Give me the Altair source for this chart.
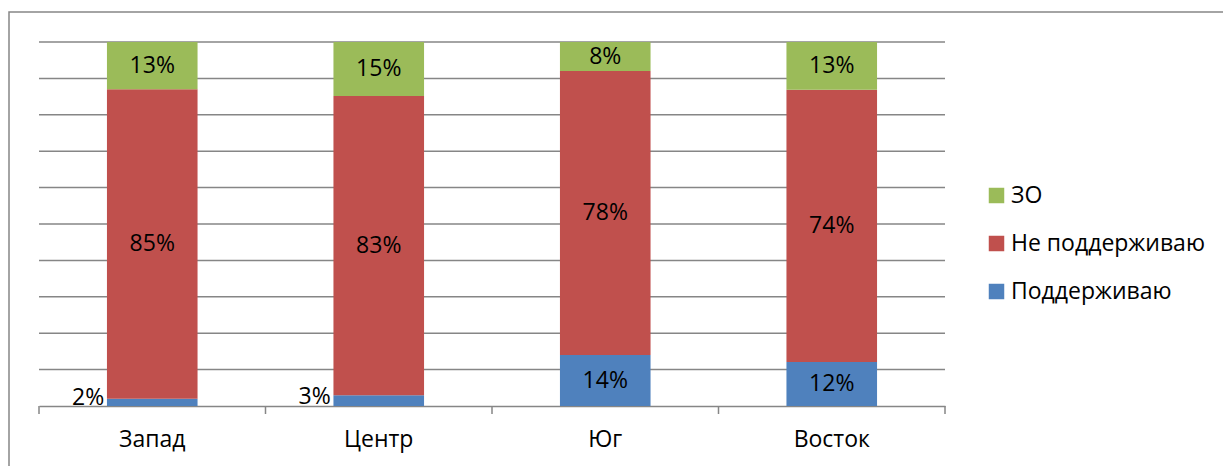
import altair as alt
import pandas as pd

regions = ["Запад", "Центр", "Юг", "Восток"]
series = ["Поддерживаю", "Не поддерживаю", "ЗО"]
support = [2, 3, 14, 12]
oppose = [85, 83, 78, 74]
undecided = [13, 15, 8, 13]
colors = ["#9BBB59", "#C0504D", "#4F81BD"]  # ЗО, Не поддерживаю, Поддерживаю
boundaries = [0, 1, 2, 3, 4]
grid_levels = [0.1, 0.2, 0.3, 0.4, 0.5, 0.6, 0.7, 0.8, 0.9, 1.0]

rows = []
for i, r in enumerate(regions):
    vals = [support[i], oppose[i], undecided[i]]
    total = sum(vals)
    cum = 0
    for k, (s, v) in enumerate(zip(series, vals)):
        cum += v
        rows.append({"region": r, "series": s, "value": v, "ord": k,
                     "mid": (cum - v / 2) / total, "label": f"{v}%"})
df = pd.DataFrame(rows)

FONT = "Open Sans"
FS = 23
GRAY = "#868686"

xscale = alt.Scale(paddingInner=0.6, paddingOuter=0.3)
xaxis = alt.Axis(title=None, labelAngle=0, ticks=False, domainColor=GRAY,
                 domainWidth=1.5, labelFontSize=FS, labelFont=FONT,
                 labelColor="black", labelPadding=22)
yscale = alt.Scale(domain=[0, 1], nice=False)

grid = alt.Chart(pd.DataFrame({"g": grid_levels})).mark_rule(
    color=GRAY, strokeWidth=1.5).encode(
    y=alt.Y("g:Q", scale=yscale, axis=None))

base = alt.Chart(df)

bars = base.mark_bar().encode(
    x=alt.X("region:N", sort=regions, scale=xscale, axis=xaxis),
    y=alt.Y("value:Q", stack="normalize", scale=yscale, axis=None),
    color=alt.Color("series:N",
                    scale=alt.Scale(domain=["ЗО", "Не поддерживаю", "Поддерживаю"], range=colors),
                    legend=alt.Legend(title=None, orient="none", legendX=946, legendY=142,
                                      symbolType="square", symbolSize=240, symbolStrokeWidth=0,
                                      labelFontSize=FS, labelFont=FONT, labelColor="black",
                                      labelLimit=400, rowPadding=24, labelOffset=3)),
    order=alt.Order("ord:Q", sort="ascending"),
)

big = base.transform_filter("datum.value >= 5").mark_text(
    fontSize=FS, font=FONT, color="black").encode(
    x=alt.X("region:N", sort=regions, scale=xscale, axis=xaxis),
    y=alt.Y("mid:Q", scale=yscale, axis=None), text="label:N")

small = base.transform_filter("datum.value < 5").mark_text(
    fontSize=FS, font=FONT, color="black", align="right", dx=-48, dy=-4).encode(
    x=alt.X("region:N", sort=regions, scale=xscale, axis=xaxis),
    y=alt.Y("mid:Q", scale=yscale, axis=None), text="label:N")

inner = alt.layer(grid, bars, big, small)

ticks = alt.Chart(pd.DataFrame({"b": boundaries})).mark_rule(
    color=GRAY, strokeWidth=1.5).encode(
    x=alt.X("b:Q", scale=alt.Scale(domain=[0, 4]), axis=None),
    y=alt.value(364), y2=alt.value(372))

frame = alt.Chart(pd.DataFrame({"a": [0]})).mark_rect(
    fill=None, stroke=GRAY, strokeWidth=1.5).encode(
    x=alt.value(-30), x2=alt.value(1200), y=alt.value(-30), y2=alt.value(440))

chart = alt.layer(frame, inner, ticks).resolve_scale(x="independent").properties(
    width=906, height=364,
    padding={"left": 39, "top": 42, "right": 278, "bottom": 60},
    autosize=alt.AutoSizeParams(type="none"),
    background="white",
).configure_view(stroke=None)

chart.save("out.html", embed_options={"renderer": "svg", "actions": False})
